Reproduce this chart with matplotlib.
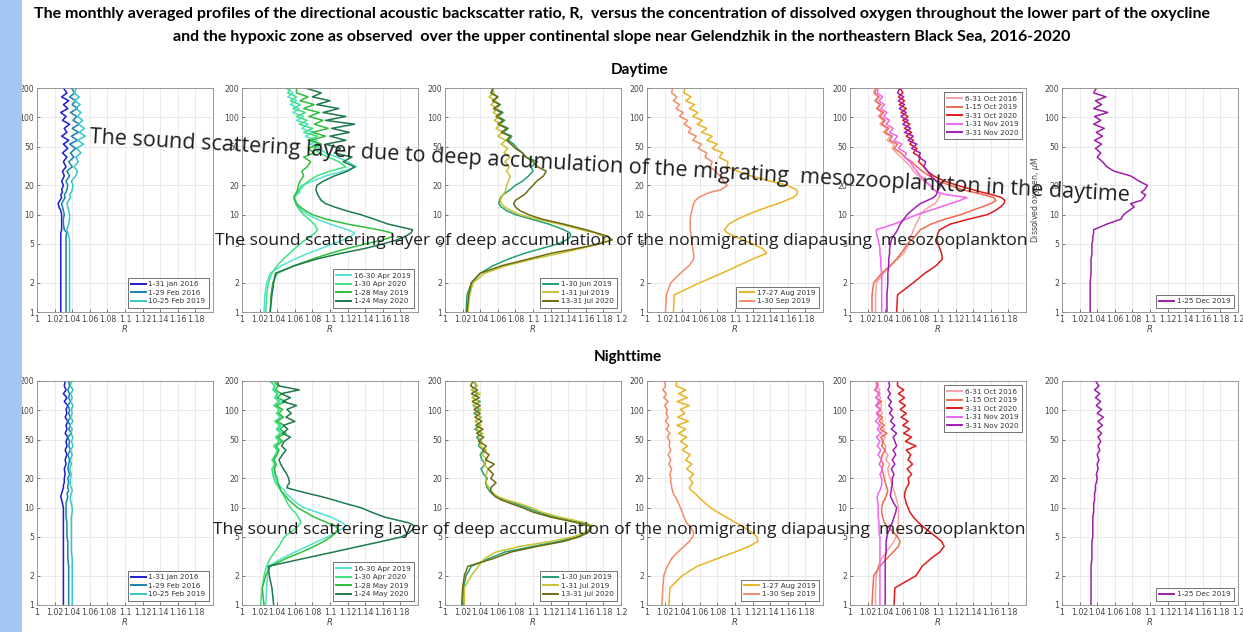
import matplotlib
matplotlib.use('Agg')
import matplotlib.pyplot as plt
from matplotlib.patches import Rectangle

# oxygen levels (uM) at which the profiles are read
oxygen = [1, 1.5, 2, 2.5, 3, 3.5, 4, 4.5,
          5, 5.5, 6, 6.5, 7, 8, 9, 10,
          11, 12, 13, 14, 15, 16, 17, 18,
          20, 22, 25, 28, 31, 35, 39, 43,
          48, 53, 58, 64, 70, 77, 85, 93,
          102, 112, 123, 135, 148, 162, 178, 200]

# ---------------- daytime profiles of R ----------------
day_jan16 = [1.027, 1.027, 1.027, 1.027, 1.027, 1.027, 1.027, 1.027,
             1.027, 1.027, 1.027, 1.027, 1.028, 1.028, 1.028, 1.028,
             1.027, 1.025, 1.024, 1.026, 1.028, 1.027, 1.029, 1.028,
             1.030, 1.028, 1.031, 1.029, 1.033, 1.030, 1.034, 1.029,
             1.035, 1.030, 1.036, 1.028, 1.034, 1.031, 1.037, 1.029,
             1.033, 1.027, 1.035, 1.030, 1.036, 1.028, 1.034, 1.030]
day_feb16 = [1.033, 1.033, 1.033, 1.033, 1.033, 1.033, 1.033, 1.033,
             1.033, 1.033, 1.033, 1.034, 1.031, 1.030, 1.030, 1.031,
             1.030, 1.029, 1.028, 1.030, 1.032, 1.031, 1.033, 1.034,
             1.035, 1.033, 1.037, 1.034, 1.040, 1.036, 1.042, 1.038,
             1.044, 1.037, 1.046, 1.039, 1.047, 1.040, 1.048, 1.041,
             1.045, 1.038, 1.046, 1.040, 1.044, 1.037, 1.043, 1.039]
day_feb19 = [1.037, 1.037, 1.037, 1.037, 1.037, 1.037, 1.037, 1.037,
             1.037, 1.037, 1.036, 1.035, 1.034, 1.036, 1.037, 1.037,
             1.036, 1.035, 1.034, 1.036, 1.038, 1.037, 1.039, 1.040,
             1.041, 1.039, 1.044, 1.046, 1.042, 1.047, 1.044, 1.050,
             1.045, 1.053, 1.046, 1.055, 1.048, 1.054, 1.047, 1.052,
             1.046, 1.050, 1.044, 1.049, 1.043, 1.048, 1.042, 1.045]

day_apr19 = [1.025, 1.026, 1.028, 1.032, 1.045, 1.060, 1.075, 1.090,
             1.103, 1.115, 1.124, 1.128, 1.120, 1.100, 1.085, 1.075,
             1.068, 1.064, 1.062, 1.061, 1.060, 1.062, 1.066, 1.064,
             1.068, 1.080, 1.095, 1.115, 1.130, 1.120, 1.108, 1.095,
             1.088, 1.078, 1.085, 1.072, 1.080, 1.068, 1.075, 1.062,
             1.070, 1.058, 1.065, 1.055, 1.062, 1.052, 1.058, 1.050]
day_apr20 = [1.027, 1.028, 1.030, 1.034, 1.040, 1.047, 1.054, 1.060,
             1.066, 1.072, 1.078, 1.083, 1.086, 1.082, 1.076, 1.070,
             1.066, 1.063, 1.061, 1.060, 1.059, 1.061, 1.063, 1.066,
             1.070, 1.075, 1.085, 1.100, 1.118, 1.110, 1.098, 1.088,
             1.082, 1.090, 1.075, 1.086, 1.070, 1.080, 1.065, 1.074,
             1.062, 1.072, 1.058, 1.066, 1.055, 1.062, 1.052, 1.055]
day_may19 = [1.032, 1.033, 1.035, 1.040, 1.060, 1.080, 1.100, 1.120,
             1.140, 1.160, 1.172, 1.170, 1.155, 1.120, 1.095, 1.080,
             1.072, 1.066, 1.062, 1.060, 1.059, 1.060, 1.062, 1.063,
             1.064, 1.066, 1.070, 1.068, 1.074, 1.078, 1.070, 1.082,
             1.075, 1.090, 1.078, 1.095, 1.080, 1.098, 1.082, 1.092,
             1.076, 1.088, 1.070, 1.082, 1.066, 1.075, 1.062, 1.062]
day_may20 = [1.032, 1.034, 1.036, 1.038, 1.060, 1.085, 1.112, 1.140,
             1.160, 1.176, 1.186, 1.192, 1.194, 1.166, 1.150, 1.135,
             1.118, 1.105, 1.095, 1.090, 1.088, 1.086, 1.085, 1.084,
             1.085, 1.092, 1.105, 1.120, 1.128, 1.115, 1.125, 1.105,
             1.112, 1.095, 1.118, 1.100, 1.122, 1.102, 1.128, 1.095,
             1.118, 1.092, 1.110, 1.085, 1.100, 1.080, 1.090, 1.072]

day_jun19 = [1.024, 1.025, 1.030, 1.040, 1.055, 1.072, 1.090, 1.110,
             1.128, 1.138, 1.143, 1.142, 1.135, 1.118, 1.098, 1.080,
             1.070, 1.064, 1.061, 1.062, 1.063, 1.066, 1.070, 1.074,
             1.080, 1.088, 1.095, 1.100, 1.098, 1.105, 1.092, 1.088,
             1.082, 1.078, 1.072, 1.076, 1.066, 1.072, 1.062, 1.068,
             1.060, 1.066, 1.057, 1.063, 1.055, 1.060, 1.053, 1.055]
day_jul19 = [1.026, 1.028, 1.032, 1.045, 1.070, 1.100, 1.130, 1.155,
             1.175, 1.182, 1.180, 1.170, 1.155, 1.130, 1.105, 1.085,
             1.075, 1.068, 1.064, 1.063, 1.064, 1.066, 1.068, 1.069,
             1.070, 1.072, 1.074, 1.070, 1.073, 1.068, 1.074, 1.067,
             1.071, 1.064, 1.069, 1.060, 1.066, 1.058, 1.064, 1.056,
             1.062, 1.055, 1.060, 1.052, 1.058, 1.050, 1.056, 1.052]
day_jul20 = [1.025, 1.027, 1.030, 1.040, 1.065, 1.095, 1.120, 1.150,
             1.175, 1.190, 1.185, 1.172, 1.160, 1.135, 1.110, 1.095,
             1.085, 1.080, 1.078, 1.080, 1.085, 1.090, 1.093, 1.095,
             1.100, 1.104, 1.112, 1.115, 1.105, 1.100, 1.092, 1.088,
             1.080, 1.075, 1.070, 1.074, 1.064, 1.070, 1.060, 1.066,
             1.058, 1.064, 1.055, 1.062, 1.054, 1.060, 1.052, 1.055]

day_aug19 = [1.030, 1.031, 1.060, 1.085, 1.104, 1.120, 1.136, 1.131,
             1.120, 1.109, 1.099, 1.091, 1.088, 1.093, 1.103, 1.114,
             1.126, 1.137, 1.149, 1.158, 1.166, 1.170, 1.171, 1.170,
             1.160, 1.141, 1.118, 1.103, 1.091, 1.092, 1.082, 1.086,
             1.074, 1.080, 1.068, 1.074, 1.062, 1.068, 1.057, 1.063,
             1.052, 1.058, 1.048, 1.054, 1.044, 1.050, 1.042, 1.043]
day_sep19 = [1.021, 1.022, 1.027, 1.038, 1.048, 1.053, 1.053, 1.052,
             1.051, 1.051, 1.050, 1.050, 1.049, 1.049, 1.049, 1.050,
             1.051, 1.052, 1.053, 1.055, 1.059, 1.065, 1.072, 1.084,
             1.091, 1.087, 1.083, 1.078, 1.072, 1.074, 1.066, 1.068,
             1.058, 1.062, 1.052, 1.056, 1.047, 1.050, 1.042, 1.046,
             1.037, 1.041, 1.033, 1.037, 1.030, 1.034, 1.028, 1.029]

day_oct16 = [1.029, 1.029, 1.030, 1.038, 1.046, 1.054, 1.061, 1.064,
             1.067, 1.068, 1.069, 1.071, 1.072, 1.075, 1.078, 1.080,
             1.084, 1.090, 1.097, 1.099, 1.101, 1.103, 1.100, 1.096,
             1.091, 1.084, 1.078, 1.072, 1.069, 1.063, 1.058, 1.053,
             1.048, 1.050, 1.042, 1.046, 1.038, 1.042, 1.034, 1.038,
             1.032, 1.036, 1.030, 1.034, 1.028, 1.032, 1.027, 1.029]
day_oct19 = [1.025, 1.025, 1.027, 1.036, 1.046, 1.053, 1.058, 1.062,
             1.065, 1.070, 1.074, 1.077, 1.080, 1.092, 1.108, 1.126,
             1.138, 1.150, 1.160, 1.166, 1.163, 1.152, 1.140, 1.128,
             1.114, 1.100, 1.090, 1.082, 1.076, 1.070, 1.062, 1.058,
             1.050, 1.054, 1.045, 1.048, 1.040, 1.044, 1.036, 1.040,
             1.034, 1.038, 1.031, 1.035, 1.029, 1.033, 1.028, 1.030]
day_oct20 = [1.053, 1.054, 1.072, 1.085, 1.098, 1.105, 1.104, 1.102,
             1.100, 1.099, 1.099, 1.100, 1.102, 1.114, 1.135, 1.156,
             1.165, 1.171, 1.175, 1.176, 1.172, 1.162, 1.150, 1.140,
             1.122, 1.108, 1.095, 1.088, 1.084, 1.078, 1.080, 1.072,
             1.076, 1.068, 1.072, 1.064, 1.070, 1.062, 1.068, 1.060,
             1.066, 1.058, 1.064, 1.056, 1.062, 1.055, 1.060, 1.057]
day_nov19 = [1.036, 1.036, 1.036, 1.036, 1.035, 1.035, 1.034, 1.034,
             1.033, 1.032, 1.031, 1.030, 1.030, 1.050, 1.064, 1.076,
             1.090, 1.103, 1.114, 1.125, 1.133, 1.110, 1.100, 1.095,
             1.091, 1.086, 1.080, 1.076, 1.072, 1.068, 1.062, 1.064,
             1.055, 1.059, 1.050, 1.054, 1.045, 1.049, 1.041, 1.045,
             1.038, 1.042, 1.035, 1.039, 1.033, 1.037, 1.031, 1.032]
day_nov20 = [1.042, 1.042, 1.043, 1.043, 1.044, 1.044, 1.045, 1.045,
             1.046, 1.047, 1.049, 1.052, 1.054, 1.057, 1.061, 1.065,
             1.070, 1.075, 1.080, 1.088, 1.095, 1.098, 1.099, 1.100,
             1.103, 1.098, 1.092, 1.088, 1.084, 1.086, 1.078, 1.080,
             1.070, 1.076, 1.066, 1.072, 1.062, 1.069, 1.060, 1.066,
             1.058, 1.064, 1.056, 1.062, 1.055, 1.061, 1.054, 1.057]

day_dec19 = [1.032, 1.032, 1.032, 1.033, 1.033, 1.033, 1.034, 1.034,
             1.034, 1.035, 1.035, 1.036, 1.036, 1.051, 1.067, 1.070,
             1.076, 1.082, 1.078, 1.090, 1.093, 1.095, 1.090, 1.094,
             1.097, 1.088, 1.078, 1.059, 1.051, 1.046, 1.040, 1.044,
             1.038, 1.045, 1.037, 1.046, 1.039, 1.048, 1.036, 1.044,
             1.037, 1.052, 1.036, 1.045, 1.038, 1.050, 1.036, 1.039]

# ---------------- nighttime profiles of R ----------------
night_jan16 = [1.030, 1.030, 1.030, 1.030, 1.030, 1.030, 1.030, 1.030,
               1.030, 1.030, 1.030, 1.030, 1.030, 1.030, 1.030, 1.030,
               1.029, 1.028, 1.027, 1.028, 1.029, 1.030, 1.030, 1.031,
               1.031, 1.032, 1.031, 1.033, 1.032, 1.034, 1.032, 1.034,
               1.033, 1.035, 1.032, 1.034, 1.033, 1.035, 1.032, 1.034,
               1.033, 1.035, 1.031, 1.034, 1.030, 1.033, 1.031, 1.032]
night_feb16 = [1.036, 1.036, 1.036, 1.036, 1.035, 1.035, 1.035, 1.035,
               1.034, 1.034, 1.034, 1.034, 1.034, 1.033, 1.033, 1.033,
               1.033, 1.034, 1.035, 1.034, 1.036, 1.035, 1.035, 1.036,
               1.035, 1.037, 1.035, 1.036, 1.037, 1.035, 1.038, 1.036,
               1.037, 1.035, 1.039, 1.036, 1.038, 1.035, 1.038, 1.036,
               1.037, 1.035, 1.038, 1.036, 1.037, 1.035, 1.037, 1.036]
night_feb19 = [1.040, 1.040, 1.040, 1.040, 1.040, 1.039, 1.039, 1.039,
               1.039, 1.039, 1.039, 1.039, 1.039, 1.039, 1.040, 1.040,
               1.039, 1.038, 1.038, 1.039, 1.040, 1.039, 1.038, 1.038,
               1.038, 1.039, 1.037, 1.039, 1.038, 1.040, 1.038, 1.041,
               1.039, 1.041, 1.038, 1.040, 1.037, 1.041, 1.038, 1.040,
               1.039, 1.041, 1.038, 1.040, 1.038, 1.041, 1.038, 1.039]

night_apr19 = [1.027, 1.028, 1.029, 1.030, 1.045, 1.060, 1.074, 1.086,
               1.097, 1.106, 1.113, 1.118, 1.114, 1.101, 1.085, 1.070,
               1.063, 1.058, 1.054, 1.050, 1.048, 1.045, 1.042, 1.040,
               1.038, 1.037, 1.036, 1.038, 1.036, 1.039, 1.041, 1.037,
               1.044, 1.040, 1.046, 1.041, 1.044, 1.039, 1.043, 1.040,
               1.042, 1.037, 1.044, 1.038, 1.041, 1.036, 1.038, 1.032]
night_apr20 = [1.021, 1.023, 1.025, 1.028, 1.032, 1.037, 1.042, 1.045,
               1.048, 1.054, 1.060, 1.064, 1.067, 1.064, 1.060, 1.055,
               1.052, 1.050, 1.048, 1.046, 1.044, 1.042, 1.040, 1.038,
               1.036, 1.035, 1.034, 1.037, 1.034, 1.038, 1.040, 1.036,
               1.042, 1.038, 1.044, 1.039, 1.043, 1.037, 1.046, 1.039,
               1.043, 1.036, 1.042, 1.037, 1.040, 1.035, 1.037, 1.032]
night_may19 = [1.025, 1.023, 1.027, 1.032, 1.050, 1.068, 1.082, 1.093,
               1.101, 1.106, 1.109, 1.106, 1.097, 1.082, 1.072, 1.063,
               1.058, 1.053, 1.050, 1.047, 1.044, 1.043, 1.042, 1.041,
               1.040, 1.038, 1.037, 1.039, 1.036, 1.040, 1.042, 1.039,
               1.046, 1.041, 1.050, 1.043, 1.048, 1.040, 1.047, 1.042,
               1.046, 1.039, 1.050, 1.040, 1.045, 1.038, 1.041, 1.036]
night_may20 = [1.036, 1.034, 1.031, 1.030, 1.070, 1.104, 1.133, 1.159,
               1.181, 1.190, 1.194, 1.196, 1.189, 1.162, 1.147, 1.135,
               1.118, 1.104, 1.090, 1.075, 1.062, 1.051, 1.052, 1.054,
               1.053, 1.051, 1.047, 1.044, 1.042, 1.046, 1.050, 1.045,
               1.048, 1.055, 1.046, 1.052, 1.047, 1.060, 1.050, 1.056,
               1.051, 1.062, 1.046, 1.055, 1.044, 1.065, 1.042, 1.040]

night_jun19 = [1.020, 1.021, 1.024, 1.030, 1.050, 1.068, 1.100, 1.130,
               1.150, 1.160, 1.165, 1.166, 1.155, 1.124, 1.105, 1.093,
               1.080, 1.068, 1.058, 1.053, 1.050, 1.048, 1.047, 1.046,
               1.048, 1.044, 1.041, 1.046, 1.042, 1.040, 1.044, 1.038,
               1.040, 1.036, 1.042, 1.034, 1.040, 1.035, 1.041, 1.033,
               1.039, 1.032, 1.040, 1.031, 1.037, 1.030, 1.036, 1.032]
night_jul19 = [1.022, 1.022, 1.030, 1.038, 1.045, 1.058, 1.085, 1.120,
               1.145, 1.158, 1.163, 1.168, 1.160, 1.130, 1.110, 1.098,
               1.085, 1.070, 1.060, 1.055, 1.052, 1.050, 1.048, 1.047,
               1.046, 1.047, 1.049, 1.044, 1.048, 1.042, 1.047, 1.040,
               1.042, 1.038, 1.043, 1.036, 1.041, 1.034, 1.040, 1.036,
               1.041, 1.033, 1.038, 1.031, 1.040, 1.030, 1.037, 1.033]
night_jul20 = [1.019, 1.020, 1.022, 1.026, 1.055, 1.075, 1.105, 1.135,
               1.152, 1.162, 1.166, 1.164, 1.150, 1.120, 1.100, 1.088,
               1.075, 1.064, 1.057, 1.054, 1.052, 1.052, 1.055, 1.058,
               1.052, 1.055, 1.049, 1.056, 1.046, 1.050, 1.043, 1.047,
               1.038, 1.044, 1.036, 1.043, 1.035, 1.042, 1.034, 1.040,
               1.033, 1.040, 1.031, 1.039, 1.030, 1.037, 1.029, 1.032]

night_aug19 = [1.025, 1.026, 1.040, 1.057, 1.080, 1.100, 1.116, 1.126,
               1.125, 1.120, 1.114, 1.108, 1.101, 1.090, 1.080, 1.072,
               1.067, 1.062, 1.058, 1.055, 1.050, 1.048, 1.050, 1.052,
               1.048, 1.053, 1.045, 1.051, 1.044, 1.049, 1.040, 1.046,
               1.038, 1.045, 1.036, 1.044, 1.034, 1.047, 1.035, 1.043,
               1.038, 1.048, 1.034, 1.046, 1.036, 1.044, 1.033, 1.034]
night_sep19 = [1.017, 1.018, 1.019, 1.023, 1.028, 1.035, 1.042, 1.048,
               1.052, 1.053, 1.051, 1.048, 1.045, 1.042, 1.040, 1.038,
               1.036, 1.034, 1.032, 1.030, 1.029, 1.028, 1.028, 1.027,
               1.027, 1.026, 1.028, 1.025, 1.027, 1.024, 1.027, 1.025,
               1.026, 1.023, 1.026, 1.022, 1.025, 1.021, 1.024, 1.022,
               1.023, 1.020, 1.024, 1.019, 1.022, 1.018, 1.021, 1.020]

night_oct16 = [1.029, 1.029, 1.030, 1.032, 1.036, 1.041, 1.046, 1.050,
               1.052, 1.054, 1.055, 1.055, 1.055, 1.055, 1.055, 1.055,
               1.054, 1.053, 1.052, 1.051, 1.050, 1.049, 1.048, 1.047,
               1.046, 1.044, 1.043, 1.045, 1.041, 1.043, 1.039, 1.041,
               1.036, 1.040, 1.035, 1.039, 1.034, 1.038, 1.033, 1.037,
               1.034, 1.036, 1.032, 1.035, 1.031, 1.034, 1.030, 1.030]
night_oct19 = [1.025, 1.026, 1.027, 1.034, 1.042, 1.049, 1.055, 1.057,
               1.054, 1.050, 1.046, 1.042, 1.039, 1.037, 1.036, 1.036,
               1.037, 1.039, 1.041, 1.042, 1.043, 1.042, 1.041, 1.040,
               1.039, 1.038, 1.036, 1.038, 1.035, 1.037, 1.040, 1.036,
               1.038, 1.035, 1.042, 1.034, 1.039, 1.033, 1.037, 1.031,
               1.035, 1.030, 1.036, 1.029, 1.034, 1.028, 1.031, 1.030]
night_oct20 = [1.050, 1.051, 1.075, 1.082, 1.092, 1.102, 1.107, 1.104,
               1.098, 1.092, 1.087, 1.082, 1.078, 1.072, 1.068, 1.066,
               1.064, 1.063, 1.062, 1.062, 1.063, 1.064, 1.066, 1.067,
               1.066, 1.070, 1.065, 1.071, 1.066, 1.069, 1.064, 1.075,
               1.063, 1.070, 1.061, 1.068, 1.060, 1.066, 1.058, 1.064,
               1.057, 1.063, 1.056, 1.062, 1.055, 1.061, 1.054, 1.054]
night_nov19 = [1.034, 1.034, 1.034, 1.034, 1.034, 1.034, 1.034, 1.034,
               1.034, 1.033, 1.033, 1.033, 1.033, 1.032, 1.032, 1.032,
               1.032, 1.031, 1.031, 1.032, 1.034, 1.035, 1.036, 1.036,
               1.036, 1.034, 1.037, 1.033, 1.036, 1.032, 1.035, 1.031,
               1.034, 1.030, 1.035, 1.031, 1.034, 1.029, 1.033, 1.030,
               1.034, 1.029, 1.033, 1.030, 1.034, 1.029, 1.032, 1.031]
night_nov20 = [1.040, 1.040, 1.040, 1.040, 1.040, 1.041, 1.041, 1.041,
               1.042, 1.043, 1.045, 1.046, 1.048, 1.050, 1.052, 1.053,
               1.050, 1.048, 1.046, 1.046, 1.047, 1.047, 1.048, 1.048,
               1.048, 1.050, 1.047, 1.051, 1.048, 1.052, 1.049, 1.053,
               1.051, 1.049, 1.053, 1.047, 1.051, 1.046, 1.049, 1.045,
               1.048, 1.044, 1.047, 1.043, 1.046, 1.043, 1.045, 1.044]

night_dec19 = [1.033, 1.033, 1.033, 1.033, 1.034, 1.034, 1.034, 1.034,
               1.035, 1.035, 1.035, 1.035, 1.035, 1.035, 1.036, 1.036,
               1.036, 1.037, 1.037, 1.037, 1.038, 1.038, 1.038, 1.039,
               1.040, 1.039, 1.041, 1.040, 1.042, 1.040, 1.043, 1.041,
               1.044, 1.041, 1.045, 1.040, 1.046, 1.041, 1.047, 1.040,
               1.045, 1.039, 1.044, 1.038, 1.043, 1.037, 1.042, 1.038]

# legend labels
lab_jf = ['1-31 Jan 2016', '1-29 Feb 2016', '10-25 Feb 2019']
lab_am = ['16-30 Apr 2019', '1-30 Apr 2020', '1-28 May 2019', '1-24 May 2020']
lab_jj = ['1-30 Jun 2019', '1-31 Jul 2019', '13-31 Jul 2020']
lab_as_day = ['17-27 Aug 2019', '1-30 Sep 2019']
lab_as_night = ['1-27 Aug 2019', '1-30 Sep 2019']
lab_on = ['6-31 Oct 2016', '1-15 Oct 2019', '3-31 Oct 2020', '1-31 Nov 2019', '3-31 Nov 2020']
lab_d = ['1-25 Dec 2019']

xticks = [1, 1.02, 1.04, 1.06, 1.08, 1.1, 1.12, 1.14, 1.16, 1.18, 1.2]
yticks = [1, 2, 5, 10, 20, 50, 100, 200]

# colours
c_jf = ['#1c1cd2', '#1a82ae', '#34c8c8']
c_am = ['#50e2d2', '#3ee27e', '#2fbf3a', '#1d7a4c']
c_jj = ['#22a070', '#c8c232', '#6e6c12']
c_as = ['#e8b422', '#f58a6a']
c_on = ['#f5a3a3', '#f06a52', '#e01a1a', '#f064f0', '#a01eb4']
c_d = ['#a01ea6']

W, H = 1243, 632
fig = plt.figure(figsize=(W / 100, H / 100), dpi=100)
fig.patches.append(Rectangle((0, 0), 22 / W, 1, transform=fig.transFigure,
                             facecolor='#a3c6f2', edgecolor='none', zorder=0))


def pbox(x0, y0, x1, y1):
    return [x0 / W, 1 - y1 / H, (x1 - x0) / W, (y1 - y0) / H]


def panel(x0, y0, series, labels, colors, loc='lower right', ylabel=None, show12=False):
    ax = fig.add_axes(pbox(x0, y0, x0 + 176, y0 + 224))
    for r, lab, c in zip(series, labels, colors):
        ax.plot(r, oxygen, color=c, lw=1.1, label=lab)
    ax.set_yscale('log')
    ax.set_ylim(1, 200)
    ax.set_xlim(1, 1.2)
    ticks = xticks if show12 else xticks[:-1]
    ax.set_xticks(ticks)
    ax.set_xticklabels(['%g' % t for t in ticks])
    ax.set_yticks(yticks)
    ax.set_yticklabels([str(t) for t in yticks])
    ax.minorticks_off()
    ax.tick_params(labelsize=5.6, colors='#444444', direction='in', length=2, pad=2, width=0.5)
    ax.grid(True, color='#e2e2e2', lw=0.5)
    ax.set_axisbelow(True)
    for s in ax.spines.values():
        s.set_color('#8a8a8a')
        s.set_linewidth(0.6)
    ax.set_xlabel('R', style='italic', fontsize=6, color='#444444', labelpad=1)
    if ylabel:
        ax.set_ylabel(ylabel, fontsize=5.6, color='#444444', labelpad=2)
    leg = ax.legend(loc=loc, fontsize=5.2, handlelength=2.0, borderpad=0.45,
                    labelspacing=0.35, handletextpad=0.4, fancybox=False,
                    borderaxespad=0.6)
    leg.get_frame().set_edgecolor('#333333')
    leg.get_frame().set_linewidth(0.6)
    for ln in leg.get_lines():
        ln.set_linewidth(1.4)
    for t in leg.get_texts():
        t.set_color('#333333')
    return ax


lefts = [37, 242, 445, 647, 850, 1062]
ylab = 'Concentration of dissolved oxygen, $\\mu$M'

# daytime row
panel(lefts[0], 88, [day_jan16, day_feb16, day_feb19], lab_jf, c_jf, ylabel=ylab)
panel(lefts[1], 88, [day_apr19, day_apr20, day_may19, day_may20], lab_am, c_am)
panel(lefts[2], 88, [day_jun19, day_jul19, day_jul20], lab_jj, c_jj, show12=True)
panel(lefts[3], 88, [day_aug19, day_sep19], lab_as_day, c_as)
panel(lefts[4], 88, [day_oct16, day_oct19, day_oct20, day_nov19, day_nov20], lab_on, c_on,
      loc='upper right')
panel(lefts[5], 88, [day_dec19], lab_d, c_d, ylabel='Dissolved oxygen, $\\mu$M', show12=True)

# nighttime row
panel(lefts[0], 381, [night_jan16, night_feb16, night_feb19], lab_jf, c_jf, ylabel=ylab)
panel(lefts[1], 381, [night_apr19, night_apr20, night_may19, night_may20], lab_am, c_am)
panel(lefts[2], 381, [night_jun19, night_jul19, night_jul20], lab_jj, c_jj, show12=True)
panel(lefts[3], 381, [night_aug19, night_sep19], lab_as_night, c_as)
panel(lefts[4], 381, [night_oct16, night_oct19, night_oct20, night_nov19, night_nov20], lab_on, c_on,
      loc='upper right')
panel(lefts[5], 381, [night_dec19], lab_d, c_d, show12=True)

# titles
fig.text(622 / W, 1 - 14 / H,
         'The monthly averaged profiles of the directional acoustic backscatter ratio, R,  versus the '
         'concentration of dissolved oxygen throughout the lower part of the oxycline',
         ha='center', va='center', fontsize=11.5, fontweight='bold', family='Lato')
fig.text(622 / W, 1 - 37 / H,
         'and the hypoxic zone as observed  over the upper continental slope near Gelendzhik '
         'in the northeastern Black Sea, 2016-2020',
         ha='center', va='center', fontsize=11.5, fontweight='bold', family='Lato')
fig.text(640 / W, 1 - 70 / H, 'Daytime', ha='center', va='center', fontsize=11,
         fontweight='bold', family='Lato')
fig.text(628 / W, 1 - 357 / H, 'Nighttime', ha='center', va='center', fontsize=11,
         fontweight='bold', family='Lato')

# overlay annotations
fig.text(90 / W, 1 - 138 / H,
         'The sound scattering layer due to deep accumulation of the migrating  '
         'mesozooplankton in the daytime',
         rotation=-3.2, rotation_mode='anchor', ha='left', va='center',
         fontsize=15.5, family='Open Sans', color='#1e1e1e', zorder=10)
ann2 = ('The sound scattering layer of deep accumulation of the nonmigrating '
        'diapausing  mesozooplankton')
fig.text(215 / W, 1 - 241 / H, ann2, ha='left', va='center', fontsize=12.6,
         family='Open Sans', color='#1e1e1e', zorder=10)
fig.text(213 / W, 1 - 530 / H, ann2, ha='left', va='center', fontsize=12.6,
         family='Open Sans', color='#1e1e1e', zorder=10)

fig.savefig('out.png', dpi=100)
